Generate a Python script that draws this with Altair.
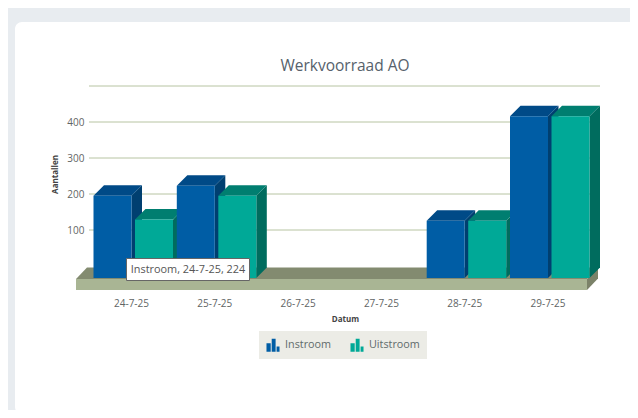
import altair as alt
import pandas as pd

categories = ["24-7-25", "25-7-25", "26-7-25", "27-7-25", "28-7-25", "29-7-25"]
instroom = [224, 252, 0, 0, 155, 445]
uitstroom = [158, 224, 0, 0, 155, 445]
series_names = ["Instroom", "Uitstroom"]
grid_values = [100, 200, 300, 400, 500]
tick_values = [100, 200, 300, 400]
tooltip_text = "Instroom, 24-7-25, 224"
chart_title = "Werkvoorraad AO"

FONT = "Open Sans"
W, H = 511, 204
SLOT, UNIT = 83.3, 0.36
DX = 10.5 / SLOT
DY = 10.5 / UNIT
XS = alt.Scale(domain=[-42 / SLOT, 469 / SLOT], nice=False, zero=False)
YS = alt.Scale(domain=[-24 / UNIT, 180 / UNIT], nice=False, zero=False)
FRONT_BASE = -12 / UNIT

labels_expr = "[" + ",".join(f"'{c}'" for c in categories) + "][datum.value]"
XA = alt.Axis(
    values=list(range(len(categories))), labelExpr=labels_expr, grid=False, domain=False, ticks=False,
    zindex=1, labelFont=FONT, labelFontSize=10, labelColor="#5f6565", labelPadding=8,
    titleFont=FONT, titleFontSize=8, titleFontWeight="bold", titleColor="#444444",
    titleX=256, titleY=25)
YA = alt.Axis(
    values=tick_values, grid=False, domain=False, ticks=False, zindex=1,
    labelFont=FONT, labelFontSize=10, labelColor="#5f6565", labelPadding=5,
    titleFont=FONT, titleFontSize=8, titleFontWeight="bold", titleColor="#444444",
    titleX=-30, titleY=88)

X = lambda f="x": alt.X(f"{f}:Q", scale=XS, axis=XA, title="Datum")
Y = lambda f="y": alt.Y(f"{f}:Q", scale=YS, axis=YA, title="Aantallen")

def side(x1, top, base, color, dx=DX, dy=DY):
    df = pd.DataFrame({"x": [x1, x1 + dx], "y": [top, top + dy], "y2": [base, base + dy]})
    return alt.Chart(df).mark_area(orient="vertical", color=color).encode(
        x=X(), y=Y(), y2=alt.Y2("y2:Q"))

def top_face(x0, x1, top, color, dx=DX, dy=DY):
    df = pd.DataFrame({"y": [top, top + dy], "x": [x0, x0 + dx], "x2": [x1, x1 + dx]})
    return alt.Chart(df).mark_area(orient="horizontal", color=color).encode(
        y=Y(), x=X(), x2=alt.X2("x2:Q"))

color_enc = alt.Color(
    "series:N",
    scale=alt.Scale(domain=series_names, range=["#005da5", "#00a997"]),
    legend=alt.Legend(
        title=None, orient="none", direction="horizontal",
        legendX=170, legendY=245, fillColor="#ecece6", padding=7, zindex=1,
        symbolType="M-1,1V-0.3H-0.35V1Z M-0.2,1V-1H0.4V1Z M0.55,1V0.2H1V1Z",
        symbolSize=170, symbolStrokeWidth=0, symbolOpacity=1,
        labelFont=FONT, labelFontSize=10.8, labelColor="#5f6b6b", labelOffset=5,
        columnPadding=18),
)

layers = []

# card
layers.append(alt.Chart(pd.DataFrame({"a": [0]})).mark_rect(color="#ffffff", cornerRadius=7).encode(
    x=alt.value(15 - 89), x2=alt.value(637 - 89), y=alt.value(22 - 86), y2=alt.value(414 - 86)))

# grid
layers.append(alt.Chart(pd.DataFrame({"y": grid_values})).mark_rule(color="#b7c4a2", strokeWidth=1).encode(
    x=alt.value(0), x2=alt.value(W), y=Y()))

# floor
fx0, fx1 = -55 / SLOT, 456 / SLOT
ftop, fbase = -13 / UNIT, -24 / UNIT
fdx, fdy = 11 / SLOT, 11.5 / UNIT
layers.append(side(fx1, ftop, fbase, "#7b8269", fdx, fdy))
layers.append(top_face(fx0, fx1, ftop, "#838b70", fdx, fdy))
layers.append(alt.Chart(pd.DataFrame({"x": [fx0], "x2": [fx1], "y": [ftop], "y2": [fbase]})).mark_rect(color="#a9b594").encode(
    x=X(), x2=alt.X2("x2:Q"), y=Y(), y2=alt.Y2("y2:Q")))

# bars
BAR_OFFSETS = [(-37.5 / SLOT, 0.5 / SLOT), (4 / SLOT, 42 / SLOT)]
TOPS = ["#004a87", "#007e70"]
SIDES = ["#003f70", "#006c5e"]
for i, cat in enumerate(categories):
    for s, vals in enumerate([instroom, uitstroom]):
        v = vals[i]
        if v <= 0:
            continue
        x0, x1 = i + BAR_OFFSETS[s][0], i + BAR_OFFSETS[s][1]
        top = v - DY
        layers.append(side(x1, top, FRONT_BASE, SIDES[s]))
        layers.append(top_face(x0, x1, top, TOPS[s]))
        df = pd.DataFrame({"x": [x0], "x2": [x1], "y": [top], "y2": [FRONT_BASE],
                           "series": [series_names[s]]})
        layers.append(alt.Chart(df).mark_rect().encode(
            x=X(), x2=alt.X2("x2:Q"), y=Y(), y2=alt.Y2("y2:Q"), color=color_enc))

# tooltip
tip = pd.DataFrame({"t": [tooltip_text]})
layers.append(alt.Chart(tip).mark_rect(fill="#ffffff", stroke="#666666", strokeWidth=1).encode(
    x=alt.value(126.5 - 89), x2=alt.value(249.5 - 89), y=alt.value(258.5 - 86), y2=alt.value(280.5 - 86)))
layers.append(alt.Chart(tip).mark_text(font=FONT, fontSize=10.9, color="#555555", align="center", baseline="middle").encode(
    x=alt.value(188 - 89), y=alt.value(270 - 86), text="t:N"))

# title
layers.append(alt.Chart(pd.DataFrame({"t": [chart_title]})).mark_text(
    font=FONT, fontSize=15.5, color="#56616b", align="center", baseline="middle").encode(
    x=alt.value(345 - 89), y=alt.value(65.5 - 86), text="t:N"))

chart = alt.layer(*layers).properties(
    width=W, height=H,
    padding={"left": 81, "top": 78, "right": 30, "bottom": 120},
    autosize=alt.AutoSizeParams(type="none"),
    background="#e8ecf0",
).configure_view(stroke=None)

chart.save("out.html", embed_options={"renderer": "svg", "actions": False})
